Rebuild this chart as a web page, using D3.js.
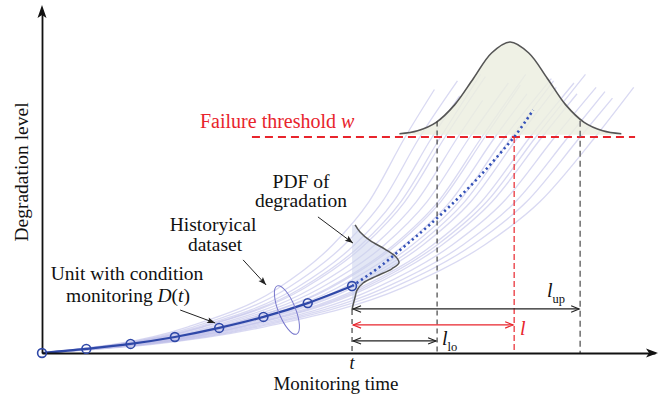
<!DOCTYPE html>
<html><head><meta charset="utf-8">
<script src="https://cdn.jsdelivr.net/npm/d3@7"></script>
<style>
body{margin:0;background:#fff}
svg{display:block}
text{font-family:"Liberation Serif","Times New Roman",serif;fill:#111}
</style>
</head><body>
<svg id="c" width="661" height="399"></svg>
<script>
// ---------------- data ----------------
const monitorTime  = [0, 1, 2, 3, 4, 5, 6, 7];
const monitorValue = [0, 0.19, 0.42, 0.74, 1.16, 1.67, 2.31, 3.10];

const predTime  = [7.0, 7.63, 8.26, 8.76, 9.26, 9.89, 10.41, 10.66, 11.09];
const predValue = [3.10, 4.00, 5.07, 5.95, 6.90, 8.20, 9.40, 10.0, 11.25];

const historicalCurves = [
 [[0,0],[3.28,1.2],[5.33,3.0],[6.56,5.0],[7.38,7.0],[8.20,10],[8.86,12.2]],
 [[0,0],[3.41,1.2],[5.54,3.0],[6.82,5.0],[7.68,7.0],[8.53,10],[9.38,12.6]],
 [[0,0],[3.52,1.2],[5.73,3.0],[7.05,5.0],[7.93,7.0],[8.81,10],[9.43,11.9]],
 [[0,0],[3.60,1.2],[5.85,3.0],[7.20,5.0],[8.10,7.0],[9.00,10],[9.90,12.9]],
 [[0,0],[3.64,1.2],[5.92,3.0],[7.28,5.0],[8.19,7.0],[9.10,10],[10.01,12.8]],
 [[0,0],[3.76,1.2],[6.10,3.0],[7.51,5.0],[8.45,7.0],[9.39,10],[9.95,11.7]],
 [[0,0],[3.86,1.2],[6.28,3.0],[7.73,5.0],[8.69,7.0],[9.66,10],[10.53,12.5]],
 [[0,0],[3.97,1.2],[6.45,3.0],[7.94,5.0],[8.94,7.0],[9.93,10],[10.92,12.9]],
 [[0,0],[4.00,1.2],[6.50,3.0],[8.00,5.0],[9.00,7.0],[10.00,10],[10.80,12.4]],
 [[0,0],[4.09,1.2],[6.65,3.0],[8.18,5.0],[9.21,7.0],[10.23,10],[10.95,12.0]],
 [[0,0],[4.18,1.2],[6.79,3.0],[8.36,5.0],[9.41,7.0],[10.45,10],[11.50,12.7]],
 [[0,0],[4.24,1.2],[6.89,3.0],[8.48,5.0],[9.54,7.0],[10.60,10],[11.55,12.6]],
 [[0,0],[4.30,1.2],[6.99,3.0],[8.60,5.0],[9.68,7.0],[10.75,10],[11.61,12.3]],
 [[0,0],[4.41,1.2],[7.16,3.0],[8.82,5.0],[9.92,7.0],[11.02,10],[12.01,12.5]],
 [[0,0],[4.46,1.2],[7.25,3.0],[8.92,5.0],[10.04,7.0],[11.15,10],[12.27,12.9]],
 [[0,0],[4.52,1.2],[7.34,3.0],[9.03,5.0],[10.16,7.0],[11.29,10],[12.08,12.0]],
 [[0,0],[4.63,1.2],[7.53,3.0],[9.26,5.0],[10.42,7.0],[11.58,10],[12.51,12.3]],
 [[0,0],[4.75,1.2],[7.72,3.0],[9.50,5.0],[10.69,7.0],[11.88,10],[12.71,12.1]],
 [[0,0],[4.86,1.2],[7.90,3.0],[9.72,5.0],[10.94,7.0],[12.15,10],[12.88,11.8]],
 [[0,0],[5.00,1.2],[8.12,3.0],[9.99,5.0],[11.24,7.0],[12.49,10],[13.36,12.3]]
];

// PDF of failure time drawn above the threshold
const topPdfTime  = [8.07, 8.48, 8.90, 9.32, 9.74, 10.15, 10.57, 10.99, 11.41, 11.82, 12.24, 12.66, 13.08];
const topPdfValue = [10.15, 10.29, 10.68, 11.50, 12.71, 13.89, 14.40, 13.89, 12.71, 11.50, 10.68, 10.29, 10.15];
const topPdfBase = 10.1;

// PDF of degradation at current time t (value, horizontal offset in time units)
const sidePdfValue  = [5.93, 5.60, 5.20, 4.80, 4.45, 4.17, 3.90, 3.55, 3.24, 2.90, 2.59, 2.20, 1.99];
const sidePdfOffset = [0.07, 0.18, 0.41, 0.75, 0.99, 1.06, 0.90, 0.54, 0.25, 0.11, 0.07, 0.02, 0.00];

const currentTime = 7;
const thresholdValue = 10;
const thresholdSpan = [4.74, 13.39];
const lifeLower = 8.92, lifeMean = 10.66, lifeUpper = 12.15;
const boundTop = [10.72, 10.0, 10.75];
const dimLevels = [2.04, 1.30, 0.56];     // l_up, l, l_lo

const xDomain = [0, 13.84];
const yDomain = [0, 15.88];

// ---------------- drawing ----------------
const svg = d3.select('#c');
const x = d3.scaleLinear().domain(xDomain).range([42, 655]);
const y = d3.scaleLinear().domain(yDomain).range([353, 10]);

const RED = '#e8242c', BLUE = '#2f48a8', INK = '#111';

const defs = svg.append('defs');
function openMarker(id, color){
  defs.append('marker').attr('id', id).attr('viewBox','-10 -5 12 10')
    .attr('refX',0).attr('refY',0).attr('markerWidth',12).attr('markerHeight',10)
    .attr('markerUnits','userSpaceOnUse').attr('orient','auto-start-reverse')
    .append('path').attr('d','M-8,-3.2 L0,0 L-8,3.2').attr('fill','none')
    .attr('stroke',color).attr('stroke-width',1.1);
}
openMarker('openK', '#222');
openMarker('openR', RED);
defs.append('marker').attr('id','fillK').attr('viewBox','-10 -5 12 10')
  .attr('refX',0).attr('refY',0).attr('markerWidth',12).attr('markerHeight',10)
  .attr('markerUnits','userSpaceOnUse').attr('orient','auto')
  .append('path').attr('d','M0,0 L-8,-3 L-6.5,0 L-8,3 Z').attr('fill','#222');

// historical curves
const line = d3.line().x(d => x(d[0])).y(d => y(d[1])).curve(d3.curveMonotoneX);
svg.append('g').selectAll('path').data(historicalCurves).join('path')
  .attr('d', line).attr('fill','none').attr('stroke','#bfc0ea')
  .attr('stroke-width',1.3).attr('opacity',0.6);

// top pdf
const topPdf = topPdfTime.map((t,i) => [t, topPdfValue[i]]);
svg.append('path').datum(topPdf)
  .attr('d', d3.area().x(d => x(d[0])).y0(y(topPdfBase)).y1(d => y(d[1])).curve(d3.curveCatmullRom))
  .attr('fill','#eceedf').attr('opacity',0.82);
svg.append('path').datum(topPdf)
  .attr('d', d3.line().x(d => x(d[0])).y(d => y(d[1])).curve(d3.curveCatmullRom))
  .attr('fill','none').attr('stroke','#555').attr('stroke-width',1.6);

// side pdf at t
const sidePdf = sidePdfValue.map((v,i) => [currentTime + sidePdfOffset[i], v]);
svg.append('path').datum(sidePdf)
  .attr('d', d3.area().y(d => y(d[1])).x0(x(currentTime)).x1(d => x(d[0])).curve(d3.curveCatmullRom))
  .attr('fill','#ccd3ec').attr('opacity',0.55);
svg.append('path').datum(sidePdf)
  .attr('d', d3.line().x(d => x(d[0])).y(d => y(d[1])).curve(d3.curveCatmullRom))
  .attr('fill','none').attr('stroke','#555').attr('stroke-width',1.5);

// threshold
svg.append('line').attr('x1', x(thresholdSpan[0])).attr('x2', x(thresholdSpan[1]))
  .attr('y1', y(thresholdValue)).attr('y2', y(thresholdValue))
  .attr('stroke', RED).attr('stroke-width',2).attr('stroke-dasharray','8,5');

// vertical dashed lines
const vlines = [
  {t: lifeLower, top: boundTop[0], c:'#333', w:1.1, da:'5,4'},
  {t: lifeMean,  top: boundTop[1], c:RED,    w:1.2, da:'6,3'},
  {t: lifeUpper, top: boundTop[2], c:'#777', w:1.6, da:'6,4'},
  {t: currentTime, top: sidePdfValue[sidePdfValue.length-1], c:'#333', w:1.1, da:'5,4'}
];
svg.append('g').selectAll('line').data(vlines).join('line')
  .attr('x1', d => x(d.t)).attr('x2', d => x(d.t))
  .attr('y1', d => y(d.top)).attr('y2', y(0))
  .attr('stroke', d => d.c).attr('stroke-width', d => d.w).attr('stroke-dasharray', d => d.da);

// predicted (dotted)
const pred = predTime.map((t,i) => [t, predValue[i]]);
svg.append('path').datum(pred)
  .attr('d', d3.line().x(d => x(d[0])).y(d => y(d[1])).curve(d3.curveMonotoneX))
  .attr('fill','none').attr('stroke', '#3552b8').attr('stroke-width',2.6)
  .attr('stroke-dasharray','2.2,3.2');

// monitored path
const mon = monitorTime.map((t,i) => [t, monitorValue[i]]);
svg.append('path').datum(mon)
  .attr('d', d3.line().x(d => x(d[0])).y(d => y(d[1])).curve(d3.curveMonotoneX))
  .attr('fill','none').attr('stroke', BLUE).attr('stroke-width',2.2);

// ellipse around historical dataset
svg.append('ellipse').attr('cx',0).attr('cy',0).attr('rx',8.5).attr('ry',26)
  .attr('transform', `translate(${x(5.53)},${y(1.99)}) rotate(-22)`)
  .attr('fill','none').attr('stroke','#7777cc').attr('stroke-width',1);

// axes
const gx = svg.append('g').attr('transform', `translate(0,${y(0)})`)
  .call(d3.axisBottom(x).tickValues([]).tickSizeOuter(0));
gx.select('.domain').attr('stroke', INK).attr('stroke-width',1.8);
const gy = svg.append('g').attr('transform', `translate(${x(0)},0)`)
  .call(d3.axisLeft(y).tickValues([]).tickSizeOuter(0));
gy.select('.domain').attr('stroke', INK).attr('stroke-width',1.8);
const xe = x(xDomain[1]), y0 = y(0), yt = y(yDomain[1]), x0 = x(0);
svg.append('path').attr('d', `M${xe+3},${y0} L${xe-9},${y0-4.5} L${xe-6},${y0} L${xe-9},${y0+4.5} Z`).attr('fill', INK);
svg.append('path').attr('d', `M${x0},${yt-5} L${x0-4.5},${yt+8} L${x0},${yt+5} L${x0+4.5},${yt+8} Z`).attr('fill', INK);

// circles (monitoring points)
svg.append('g').selectAll('circle').data(mon).join('circle')
  .attr('cx', d => x(d[0])).attr('cy', d => y(d[1])).attr('r',4.4)
  .attr('fill','none').attr('stroke', BLUE).attr('stroke-width',1.6);

// dimension arrows
const dims = [
  {end: lifeUpper, lv: dimLevels[0], m:'openK', c:'#222'},
  {end: lifeMean,  lv: dimLevels[1], m:'openR', c:RED},
  {end: lifeLower, lv: dimLevels[2], m:'openK', c:'#222'}
];
svg.append('g').selectAll('line').data(dims).join('line')
  .attr('x1', x(currentTime)+1).attr('x2', d => x(d.end)-1)
  .attr('y1', d => y(d.lv)).attr('y2', d => y(d.lv))
  .attr('stroke', d => d.c).attr('stroke-width',1.2)
  .attr('marker-start', d => `url(#${d.m})`).attr('marker-end', d => `url(#${d.m})`);

// pointer arrows
const pointers = [
  [[6.23,6.30],[7.02,5.09]],
  [[4.54,4.31],[5.06,3.15]],
  [[3.12,1.99],[3.91,1.39]]
];
svg.append('g').selectAll('line').data(pointers).join('line')
  .attr('x1', d => x(d[0][0])).attr('y1', d => y(d[0][1]))
  .attr('x2', d => x(d[1][0])).attr('y2', d => y(d[1][1]))
  .attr('stroke','#222').attr('stroke-width',1).attr('marker-end','url(#fillK)');

// text
function label(tx, ty, parts, opts={}){
  const t = svg.append('text').attr('x',tx).attr('y',ty)
    .attr('font-size', opts.size || 19.5).attr('text-anchor', opts.anchor || 'start');
  if (opts.color) t.style('fill', opts.color);
  parts.forEach(p => {
    const s = t.append('tspan').text(p.s);
    if (p.i) s.attr('font-style','italic');
    if (p.size) s.attr('font-size', p.size);
    if (p.dy) s.attr('dy', p.dy);
  });
  return t;
}
label(200, 128, [{s:'Failure threshold '},{s:'w', i:1}], {color: RED, size: 20});
label(301, 188, [{s:'PDF of'}], {anchor:'middle'});
label(301, 207, [{s:'degradation'}], {anchor:'middle'});
label(213, 230.5, [{s:'Historyical'}], {anchor:'middle'});
label(215, 251, [{s:'dataset'}], {anchor:'middle'});
label(127, 280, [{s:'Unit with condition'}], {anchor:'middle'});
label(128, 302, [{s:'monitoring '},{s:'D', i:1},{s:'('},{s:'t', i:1},{s:')'}], {anchor:'middle'});
label(336, 390, [{s:'Monitoring time'}], {anchor:'middle', size: 19});
label(x(currentTime), 369, [{s:'t', i:1}], {anchor:'middle', size:18});
svg.append('text').attr('transform','translate(28,172) rotate(-90)')
  .attr('text-anchor','middle').attr('font-size',19.5).text('Degradation level');

label(547, 297, [{s:'l', i:1, size:20},{s:'up', size:12.5, dy:6}]);
label(520, 335, [{s:'l', i:1, size:20}], {color: RED});
label(442, 345, [{s:'l', i:1, size:20},{s:'lo', size:12.5, dy:6}]);
</script>
</body></html>
